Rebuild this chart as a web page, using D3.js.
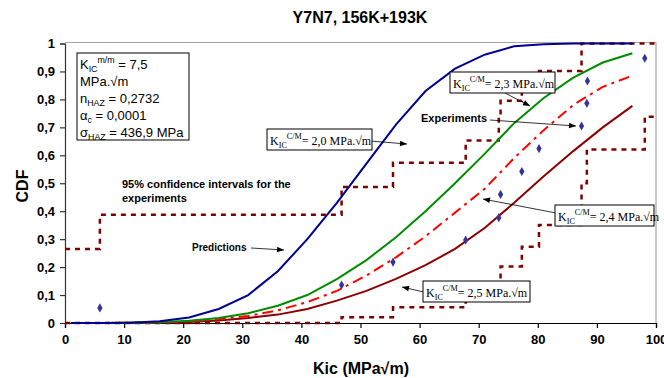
<!DOCTYPE html>
<html>
<head>
<meta charset="utf-8">
<script src="https://cdn.jsdelivr.net/npm/d3@7"></script>
<style>
  body { margin: 0; background: #fff; }
  svg { display: block; }
</style>
</head>
<body>
<div id="chart"></div>
<script>
// prediction curves, Kic on x, CDF on y
var kicX    = [1, 6, 11, 16, 21, 26, 31, 36, 41, 46, 51, 56, 61, 66, 71, 76, 81, 86, 91, 96];
var predK20 = [0, 0, 0.001, 0.006, 0.02, 0.05, 0.1, 0.185, 0.3, 0.43, 0.57, 0.71, 0.83, 0.91, 0.96, 0.99, 0.997, 1, 1, 1];
var predK23 = [0, 0, 0.001, 0.003, 0.008, 0.018, 0.035, 0.062, 0.1, 0.157, 0.225, 0.307, 0.4, 0.5, 0.605, 0.715, 0.805, 0.878, 0.932, 0.965];
var predK24 = [0, 0, 0.001, 0.002, 0.006, 0.013, 0.025, 0.045, 0.075, 0.115, 0.17, 0.235, 0.31, 0.395, 0.48, 0.59, 0.69, 0.78, 0.845, 0.885];
var predK25 = [0, 0, 0.0005, 0.001, 0.004, 0.009, 0.018, 0.03, 0.05, 0.08, 0.115, 0.158, 0.207, 0.265, 0.34, 0.43, 0.525, 0.615, 0.7, 0.777];

// experiments
var expKic = [5.9, 46.8, 55.5, 67.8, 73.4, 73.7, 77.3, 80.2, 87.4, 88.3, 88.4, 98.1];
var expCdf = [0.054, 0.136, 0.218, 0.297, 0.377, 0.46, 0.542, 0.624, 0.705, 0.786, 0.866, 0.947];

// 95% confidence bounds (step functions)
var upperX = [0, 5.9, 46.8, 55.5, 67.8, 73.4, 73.7, 77.3, 80.2, 87.4, 100];
var upperY = [0.265, 0.387, 0.487, 0.573, 0.653, 0.73, 0.795, 0.85, 0.902, 1, 1];
var lowerX = [0, 46.8, 55.5, 67.8, 73.4, 73.7, 77.3, 80.2, 87.4, 88.3, 98.1, 100];
var lowerY = [0, 0.021, 0.056, 0.097, 0.154, 0.202, 0.273, 0.351, 0.5, 0.621, 0.738, 0.738];

var xTicks = [0, 10, 20, 30, 40, 50, 60, 70, 80, 90, 100];
var xTickLabels = ["0", "10", "20", "30", "40", "50", "60", "70", "80", "90", "100"];
var yTicks = [0, 0.1, 0.2, 0.3, 0.4, 0.5, 0.6, 0.7, 0.8, 0.9, 1];
var yTickLabels = ["0", "0,1", "0,2", "0,3", "0,4", "0,5", "0,6", "0,7", "0,8", "0,9", "1"];

var sans = "'Liberation Sans', Arial, sans-serif";
var serif = "'Liberation Serif', 'Times New Roman', serif";

var width = 664, height = 378;
var svg = d3.select("#chart").append("svg")
    .attr("width", width)
    .attr("height", height);

var x = d3.scaleLinear().domain([0, 100]).range([65, 656]);
var y = d3.scaleLinear().domain([0, 1]).range([323, 43.5]);

svg.append("defs").append("marker")
    .attr("id", "arr")
    .attr("viewBox", "0 0 10 10")
    .attr("refX", 10).attr("refY", 5)
    .attr("markerUnits", "userSpaceOnUse")
    .attr("markerWidth", 8).attr("markerHeight", 7)
    .attr("orient", "auto")
  .append("path")
    .attr("d", "M0,1 L10,5 L0,9 Z")
    .attr("fill", "#000");

// plot frame (top / right)
svg.append("path")
    .attr("d", "M" + x(0) + "," + (y(1) - 1) + " H" + x(100) + " V" + y(0))
    .attr("fill", "none")
    .attr("stroke", "#a6a6a6")
    .attr("stroke-width", 1.2);

// X axis
var gx = svg.append("g")
    .attr("transform", "translate(0," + y(0) + ")")
    .call(d3.axisBottom(x).tickValues(xTicks).tickSize(5).tickPadding(7)
      .tickFormat(function(d, i) { return xTickLabels[i]; }));
gx.selectAll("text").style("font", "bold 13px " + sans).attr("fill", "#000");
gx.selectAll("line, path").attr("stroke", "#000").attr("stroke-width", 1.2);

// Y axis
var gy = svg.append("g")
    .attr("transform", "translate(" + x(0) + ",0)")
    .call(d3.axisLeft(y).tickValues(yTicks).tickSize(5).tickPadding(5)
      .tickFormat(function(d, i) { return yTickLabels[i]; }));
gy.selectAll("text").style("font", "bold 13px " + sans).attr("fill", "#000");
gy.selectAll("line, path").attr("stroke", "#333").attr("stroke-width", 1.2);

// titles
svg.append("text")
    .attr("x", 360).attr("y", 23)
    .attr("text-anchor", "middle")
    .style("font", "bold 16px " + sans)
    .text("Y7N7, 156K+193K");

svg.append("text")
    .attr("x", 361).attr("y", 374)
    .attr("text-anchor", "middle")
    .style("font", "bold 16px " + sans)
    .text("Kic (MPa\u221Am)");

svg.append("text")
    .attr("transform", "translate(28,186) rotate(-90)")
    .attr("text-anchor", "middle")
    .style("font", "bold 16px " + sans)
    .text("CDF");

// confidence bounds
var step = d3.line()
    .x(function(d) { return x(d[0]); })
    .y(function(d) { return y(d[1]); })
    .curve(d3.curveStepAfter);

[[upperX, upperY], [lowerX, lowerY]].forEach(function(b) {
  svg.append("path")
    .datum(d3.zip(b[0], b[1]))
    .attr("d", step)
    .attr("fill", "none")
    .attr("stroke", "#800000")
    .attr("stroke-width", 2.5)
    .attr("stroke-dasharray", "5,5");
});

// prediction curves
var line = d3.line()
    .x(function(d) { return x(d[0]); })
    .y(function(d) { return y(d[1]); });

var curves = [
  { vals: predK25, color: "#8b0000", dash: null },
  { vals: predK24, color: "#ff0000", dash: "11,5,3,5" },
  { vals: predK23, color: "#008c00", dash: null },
  { vals: predK20, color: "#000090", dash: null }
];
curves.forEach(function(c) {
  svg.append("path")
    .datum(d3.zip(kicX, c.vals))
    .attr("d", line)
    .attr("fill", "none")
    .attr("stroke", c.color)
    .attr("stroke-width", 2)
    .attr("stroke-dasharray", c.dash);
});

// experiment points
svg.selectAll("path.pt")
  .data(d3.zip(expKic, expCdf))
  .enter().append("path")
    .attr("class", "pt")
    .attr("transform", function(d) { return "translate(" + x(d[0]) + "," + y(d[1]) + ")"; })
    .attr("d", d3.symbol().type(d3.symbolDiamond).size(24))
    .attr("fill", "#333399");

// parameter box
svg.append("rect")
    .attr("x", 77).attr("y", 53).attr("width", 112).attr("height", 87)
    .attr("fill", "#fff").attr("stroke", "#000").attr("stroke-width", 1);

function richLine(px, py, parts, size, fam) {
  var t = svg.append("text").attr("x", px).attr("y", py)
    .style("font-family", fam).style("font-size", size + "px");
  var cur = 0;
  parts.forEach(function(p) {
    var off = p.sub ? 3 : (p.sup ? -6 : 0);
    t.append("tspan")
      .attr("dy", off - cur)
      .style("font-size", (p.sub || p.sup ? size * 0.68 : size) + "px")
      .text(p.t);
    cur = off;
  });
  return t;
}

richLine(80, 69, [{t: "K"}, {t: "IC", sub: 1}, {t: "m/m", sup: 1}, {t: " = 7,5"}], 13, sans);
richLine(80, 86, [{t: "MPa.\u221Am"}], 13, sans);
richLine(80, 103, [{t: "n"}, {t: "HAZ", sub: 1}, {t: " = 0,2732"}], 13, sans);
richLine(80, 120, [{t: "\u03B1"}, {t: "c", sub: 1}, {t: " = 0,0001"}], 13, sans);
richLine(80, 137, [{t: "\u03C3"}, {t: "HAZ", sub: 1}, {t: " = 436,9 MPa"}], 13, sans);

// K_IC annotation boxes with arrows
var notes = [
  { v: "2,0", bx: 267, by: 129, bw: 105, from: [370, 141], to: [407, 144] },
  { v: "2,3", bx: 450, by: 72, bw: 105, from: [505, 93], to: [530, 106] },
  { v: "2,4", bx: 555, by: 205, bw: 99, from: [556, 213], to: [483, 199] },
  { v: "2,5", bx: 423, by: 281, bw: 107, from: [424, 292], to: [402, 287] }
];
notes.forEach(function(n) {
  svg.append("line")
    .attr("x1", n.from[0]).attr("y1", n.from[1])
    .attr("x2", n.to[0]).attr("y2", n.to[1])
    .attr("stroke", "#000").attr("stroke-width", 0.8)
    .attr("marker-end", "url(#arr)");
  svg.append("rect")
    .attr("x", n.bx).attr("y", n.by).attr("width", n.bw).attr("height", 21)
    .attr("fill", "#fff").attr("stroke", "#000").attr("stroke-width", 1);
  richLine(n.bx + 3, n.by + 16,
    [{t: "K"}, {t: "IC", sub: 1}, {t: "C/M", sup: 1}, {t: "= " + n.v + " MPa.\u221Am"}], 12, serif);
});

// text labels with arrows
svg.append("text")
    .attr("x", 122).attr("y", 188)
    .style("font", "bold 11px " + sans)
    .text("95% confidence intervals for the");
svg.append("text")
    .attr("x", 122).attr("y", 202)
    .style("font", "bold 11px " + sans)
    .text("experiments");

svg.append("text")
    .attr("x", 192).attr("y", 251)
    .style("font", "bold 10px " + sans)
    .text("Predictions");
svg.append("line")
    .attr("x1", 251).attr("y1", 248).attr("x2", 284).attr("y2", 250)
    .attr("stroke", "#000").attr("stroke-width", 0.8)
    .attr("marker-end", "url(#arr)");

svg.append("text")
    .attr("x", 421).attr("y", 122)
    .style("font", "bold 11px " + sans)
    .text("Experiments");
svg.append("line")
    .attr("x1", 490).attr("y1", 120).attr("x2", 576).attr("y2", 126)
    .attr("stroke", "#000").attr("stroke-width", 0.8)
    .attr("marker-end", "url(#arr)");
</script>
</body>
</html>
